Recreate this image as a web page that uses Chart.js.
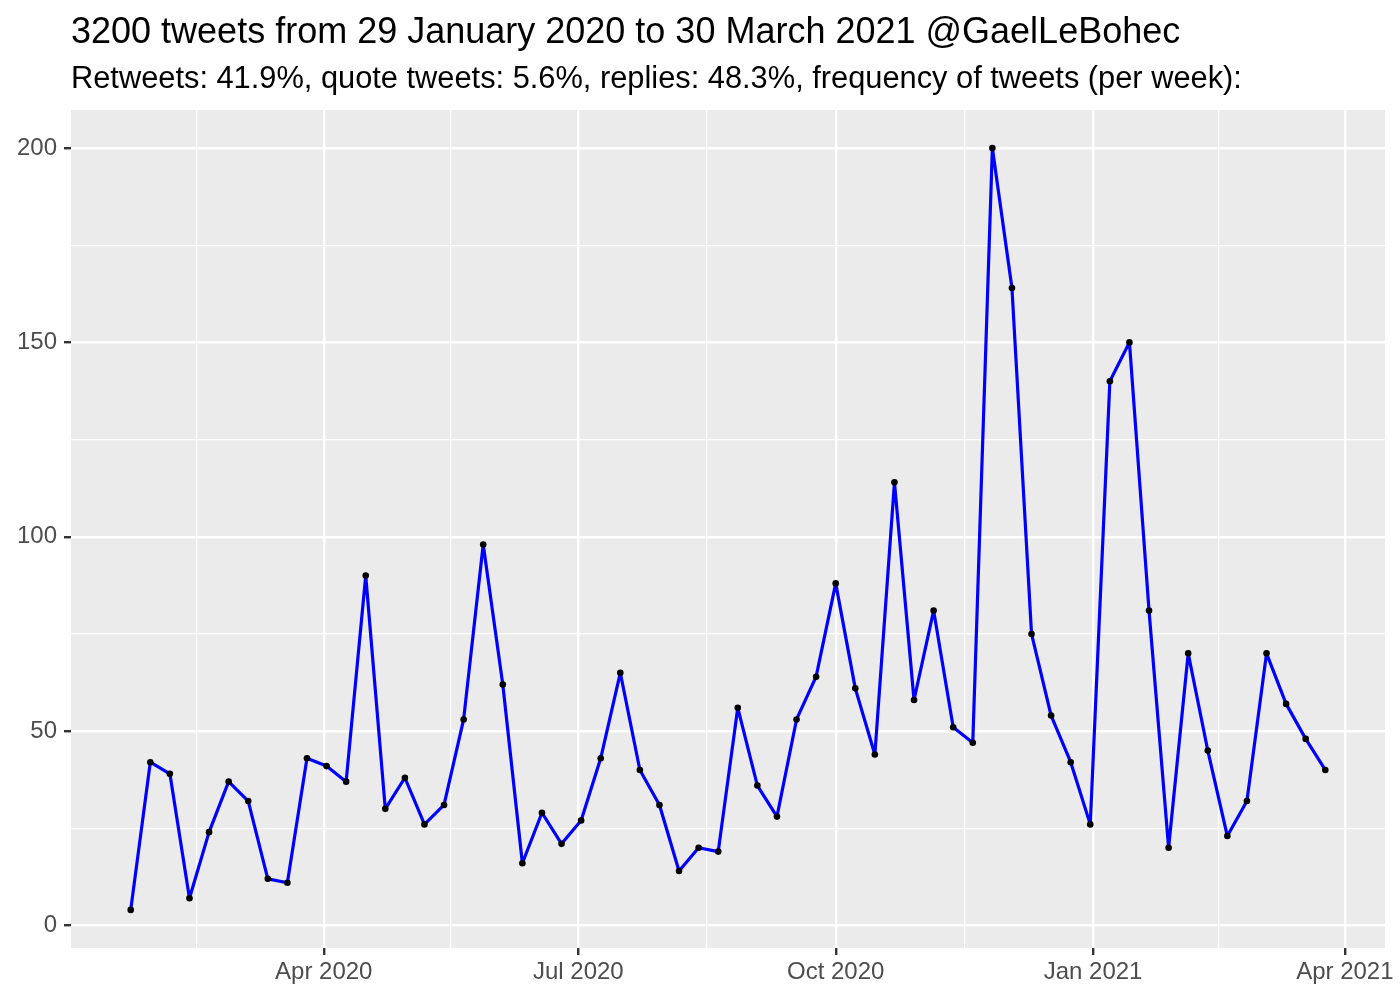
<!DOCTYPE html>
<html>
<head>
<meta charset="utf-8">
<script src="https://cdn.jsdelivr.net/npm/chart.js@4.4.1/dist/chart.umd.min.js"></script>
<style>
  html, body { margin: 0; padding: 0; background: #ffffff; }
  #wrap { position: relative; width: 1400px; height: 1000px; }
</style>
</head>
<body>
<div id="wrap"><canvas id="myChart"></canvas></div>
<script>
// week start dates and tweet counts per week
const weeks = [
    '2020-01-23', '2020-01-30', '2020-02-06', '2020-02-13', '2020-02-20', '2020-02-27',
    '2020-03-05', '2020-03-12', '2020-03-19', '2020-03-26', '2020-04-02', '2020-04-09',
    '2020-04-16', '2020-04-23', '2020-04-30', '2020-05-07', '2020-05-14', '2020-05-21',
    '2020-05-28', '2020-06-04', '2020-06-11', '2020-06-18', '2020-06-25', '2020-07-02',
    '2020-07-09', '2020-07-16', '2020-07-23', '2020-07-30', '2020-08-06', '2020-08-13',
    '2020-08-20', '2020-08-27', '2020-09-03', '2020-09-10', '2020-09-17', '2020-09-24',
    '2020-10-01', '2020-10-08', '2020-10-15', '2020-10-22', '2020-10-29', '2020-11-05',
    '2020-11-12', '2020-11-19', '2020-11-26', '2020-12-03', '2020-12-10', '2020-12-17',
    '2020-12-24', '2020-12-31', '2021-01-07', '2021-01-14', '2021-01-21', '2021-01-28',
    '2021-02-04', '2021-02-11', '2021-02-18', '2021-02-25', '2021-03-04', '2021-03-11',
    '2021-03-18', '2021-03-25'
];
const tweets = [
    4, 42, 39, 7, 24, 37, 32, 12, 11, 43, 41, 37, 90, 30, 38, 26, 31, 53, 98, 62,
    16, 29, 21, 27, 43, 65, 40, 31, 14, 20, 19, 56, 36, 28, 53, 64, 88, 61, 44, 114,
    58, 81, 51, 47, 200, 164, 75, 54, 42, 26, 140, 150, 81, 20, 70, 45, 23, 32, 70, 57,
    48, 40
];
// x axis breaks (first one is outside the range, used for minor grid only)
const xBreaks = ['2020-01-01', '2020-04-01', '2020-07-01', '2020-10-01', '2021-01-01', '2021-04-01'];
const xBreakLabels = ['Jan 2020', 'Apr 2020', 'Jul 2020', 'Oct 2020', 'Jan 2021', 'Apr 2021'];
const yBreaks = [0, 50, 100, 150, 200];

const FONT = "'Liberation Sans', Arial, Helvetica, sans-serif";

function dayNum(s) {
    const p = s.split('-').map(Number);
    return Date.UTC(p[0], p[1] - 1, p[2]) / 86400000;
}

const points = weeks.map((w, i) => ({ x: dayNum(w), y: tweets[i] }));

// ggplot style 5% expansion
const xs = points.map(p => p.x);
const ys = points.map(p => p.y);
const xSpan = Math.max(...xs) - Math.min(...xs);
const ySpan = Math.max(...ys) - Math.min(...ys);
const xMin = Math.min(...xs) - 0.05 * xSpan;
const xMax = Math.max(...xs) + 0.05 * xSpan;
const yMin = Math.min(...ys) - 0.05 * ySpan;
const yMax = Math.max(...ys) + 0.05 * ySpan;

const xMajor = xBreaks.map(dayNum);
const xMinor = [];
for (let i = 0; i < xMajor.length - 1; i++) xMinor.push((xMajor[i] + xMajor[i + 1]) / 2);
const yMinor = [];
for (let i = 0; i < yBreaks.length - 1; i++) yMinor.push((yBreaks[i] + yBreaks[i + 1]) / 2);

function isMajor(list, v) {
    return list.some(m => Math.abs(m - v) < 1e-6);
}

const panelBg = {
    id: 'panelBg',
    beforeDraw(chart) {
        const a = chart.chartArea;
        const ctx = chart.ctx;
        ctx.save();
        ctx.fillStyle = '#EBEBEB';
        ctx.fillRect(a.left, a.top, a.right - a.left, a.bottom - a.top);
        ctx.restore();
    }
};

const ctx = document.getElementById('myChart').getContext('2d');
new Chart(ctx, {
    type: 'line',
    data: {
        datasets: [{
            data: points,
            borderColor: '#0000FF',
            borderWidth: 3.2,
            borderJoinStyle: 'round',
            borderCapStyle: 'round',
            tension: 0,
            pointRadius: 3.3,
            pointHoverRadius: 3.3,
            pointBackgroundColor: '#000000',
            pointBorderWidth: 0
        }]
    },
    options: {
        responsive: true,
        maintainAspectRatio: false,
        animation: false,
        layout: { padding: { left: 0, right: 15, top: 0, bottom: 0 } },
        scales: {
            x: {
                type: 'linear',
                min: xMin,
                max: xMax,
                afterBuildTicks: function (scale) {
                    const all = xMajor.concat(xMinor).filter(v => v >= xMin && v <= xMax).sort((a, b) => a - b);
                    scale.ticks = all.map(v => ({ value: v }));
                },
                afterFit: function (scale) { scale.height = 52; },
                border: { display: false },
                grid: {
                    color: '#FFFFFF',
                    lineWidth: c => (isMajor(xMajor, c.tick.value) ? 2.4 : 1.2),
                    tickColor: c => (isMajor(xMajor, c.tick.value) ? '#333333' : 'rgba(0,0,0,0)'),
                    tickWidth: 2.4,
                    tickLength: 7
                },
                ticks: {
                    autoSkip: false,
                    maxRotation: 0,
                    padding: 3,
                    color: '#4D4D4D',
                    font: { family: FONT, size: 24 },
                    callback: function (value) {
                        const i = xMajor.findIndex(m => Math.abs(m - value) < 1e-6);
                        return i >= 0 ? xBreakLabels[i] : '';
                    }
                }
            },
            y: {
                type: 'linear',
                min: yMin,
                max: yMax,
                afterBuildTicks: function (scale) {
                    const all = yBreaks.concat(yMinor).sort((a, b) => a - b);
                    scale.ticks = all.map(v => ({ value: v }));
                },
                afterFit: function (scale) { scale.width = 71; },
                border: { display: false },
                grid: {
                    color: '#FFFFFF',
                    lineWidth: c => (isMajor(yBreaks, c.tick.value) ? 2.4 : 1.2),
                    tickColor: c => (isMajor(yBreaks, c.tick.value) ? '#333333' : 'rgba(0,0,0,0)'),
                    tickWidth: 2.4,
                    tickLength: 7
                },
                ticks: {
                    autoSkip: false,
                    padding: 7,
                    color: '#4D4D4D',
                    font: { family: FONT, size: 24 },
                    callback: function (value) {
                        return isMajor(yBreaks, value) ? String(value) : '';
                    }
                }
            }
        },
        plugins: {
            legend: { display: false },
            tooltip: { enabled: false },
            title: {
                display: true,
                text: '3200 tweets from 29 January 2020 to 30 March 2021 @GaelLeBohec',
                align: 'start',
                fullSize: false,
                color: '#000000',
                font: { family: FONT, size: 36, weight: 'normal', lineHeight: 1.2 },
                padding: { top: 11, bottom: 0 }
            },
            subtitle: {
                display: true,
                text: 'Retweets: 41.9%, quote tweets: 5.6%, replies: 48.3%, frequency of tweets (per week):',
                align: 'start',
                fullSize: false,
                color: '#000000',
                font: { family: FONT, size: 30.8, weight: 'normal', lineHeight: 1.2 },
                padding: { top: 7, bottom: 11.8 }
            }
        }
    },
    plugins: [panelBg]
});
</script>
</body>
</html>
